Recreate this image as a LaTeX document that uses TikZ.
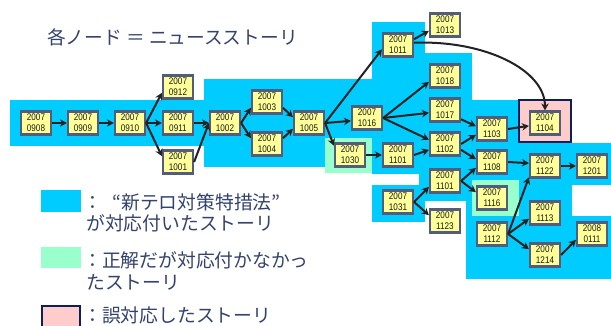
\documentclass[tikz,border=0pt]{standalone}
\usepackage{fontspec}
\newfontfamily\jp{Noto Sans CJK JP}
\newfontfamily\nf[FakeStretch=0.85]{Liberation Sans}
\usetikzlibrary{arrows.meta}
\definecolor{blueR}{HTML}{00CCFF}
\definecolor{greenR}{HTML}{99FFCC}
\definecolor{pinkR}{HTML}{FFCCCC}
\definecolor{navyR}{HTML}{0A1F5C}
\definecolor{nodefill}{HTML}{FFFF99}
\definecolor{nodeborder}{HTML}{535C7A}
\definecolor{txt}{HTML}{34426E}
\definecolor{arr}{HTML}{222222}
\begin{document}
\begin{tikzpicture}[x=1pt,y=-1pt,
  story/.style={draw=nodeborder, fill=nodefill, line width=2.2pt, minimum width=30pt, minimum height=23pt, inner sep=0pt, align=center, font=\nf\fontsize{9.6}{10.8}\selectfont, text=black!90},
  link/.style={draw=arr, line width=2pt, -{Stealth[length=7pt,width=7.5pt]}},
  lbl/.style={anchor=west, text=txt, font=\jp\fontsize{18.8}{21}\selectfont, inner sep=0pt},
  region/.style={fill=blueR},
  missed/.style={fill=greenR}]
\useasboundingbox (0,0) rectangle (611,325);
\fill[white] (0,0) rectangle (611,325);
% blue regions
\fill[region] (10,100) rectangle (205,146);
\fill[region] (204,79) rectangle (372,167);
\fill[region] (372,22) rectangle (425,60);
\fill[region] (372,53) rectangle (472,174);
\fill[region] (472,100) rectangle (518,185);
\fill[region] (518,143) rectangle (611,185);
\fill[region] (419,173) rectangle (472,201);
\fill[region] (466,200) rectangle (472,216);
\fill[region] (372,185) rectangle (425,222);
\fill[region] (519,184) rectangle (572,217);
\fill[region] (466,216) rectangle (611,279);
% green regions
\fill[missed] (325,138) rectangle (372,173);
\fill[missed] (472,180) rectangle (519,216);
% pink box
\draw[fill=pinkR, draw=navyR, line width=2pt] (519,100) rectangle (571,142);
% title
\node[lbl, font=\jp\fontsize{18.7}{20}\selectfont] (title) at (47,37) {各ノード ＝ ニュースストーリ};
% nodes
\node[story] (n0908) at (36,123) {2007\\0908};
\node[story] (n0909) at (83,123) {2007\\0909};
\node[story] (n0910) at (130,123) {2007\\0910};
\node[story] (n0912) at (178,87) {2007\\0912};
\node[story] (n0911) at (178,123) {2007\\0911};
\node[story] (n1001) at (178,162) {2007\\1001};
\node[story] (n1002) at (225,123) {2007\\1002};
\node[story] (n1003) at (267,102) {2007\\1003};
\node[story] (n1004) at (267,144) {2007\\1004};
\node[story] (n1005) at (309,123) {2007\\1005};
\node[story] (n1030) at (350,155) {2007\\1030};
\node[story] (n1016) at (367,118) {2007\\1016};
\node[story] (n1011) at (398,45) {2007\\1011};
\node[story] (n1013) at (445,25) {2007\\1013};
\node[story] (n1018) at (445,76) {2007\\1018};
\node[story] (n1017) at (445,110) {2007\\1017};
\node[story] (n1102) at (445,144) {2007\\1102};
\node[story] (n1101a) at (398,155) {2007\\1101};
\node[story] (n1103) at (492,129) {2007\\1103};
\node[story] (n1104) at (545,123) {2007\\1104};
\node[story] (n1108) at (492,162) {2007\\1108};
\node[story] (n1122) at (545,166) {2007\\1122};
\node[story] (n1201) at (592,166) {2007\\1201};
\node[story] (n1101b) at (445,181) {2007\\1101};
\node[story] (n1031) at (398,202) {2007\\1031};
\node[story] (n1116) at (492,198) {2007\\1116};
\node[story] (n1123) at (445,221) {2007\\1123};
\node[story] (n1113) at (545,213) {2007\\1113};
\node[story] (n1112) at (492,234) {2007\\1112};
\node[story] (n1214) at (545,255) {2007\\1214};
\node[story] (n0111) at (592,234) {2008\\0111};
% links
\draw[link] (n0908.east) -- (n0909.west);
\draw[link] (n0909.east) -- (n0910.west);
\draw[link] (n0910.east) -- (n0912.200);
\draw[link] (n0910.east) -- (n0911.west);
\draw[link] (n0910.east) -- (n1001.160);
\draw[link] (n0911.east) -- (n1002.west);
\draw[link] (n1001.east) -- (n1002.west);
\draw[link] (n1002.east) -- (n1003.200);
\draw[link] (n1002.east) -- (n1004.160);
\draw[link] (n1003.-20) -- (n1005.160);
\draw[link] (n1004.20) -- (n1005.200);
\draw[link] (n1005.east) -- (n1011.195);
\draw[link] (n1005.east) -- (n1016.190);
\draw[link] (n1005.east) -- (n1030.150);
\draw[link] (n1030.east) -- (n1101a.west);
\draw[link] (n1011.20) -- (n1013.200);
\draw[link] (n1011.8) .. controls (485,40) and (545,70) .. (n1104.north);
\draw[link] (n1016.east) -- (n1018.200);
\draw[link] (n1016.east) -- (n1017.190);
\draw[link] (n1016.east) -- (n1102.165);
\draw[link] (n1101a.east) -- (n1102.200);
\draw[link] (n1017.-30) -- (n1103.170);
\draw[link] (n1102.east) -- (n1103.200);
\draw[link] (n1102.-20) -- (n1108.170);
\draw[link] (n1103.east) -- (n1104.190);
\draw[link] (n1101b.east) -- (n1108.200);
\draw[link] (n1101b.east) -- (n1116.160);
\draw[link] (n1031.east) -- (n1101b.200);
\draw[link] (n1031.east) -- (n1123.160);
\draw[link] (n1108.east) -- (n1122.170);
\draw[link] (n1122.east) -- (n1201.west);
\draw[link] (n1112.east) -- (n1122.215);
\draw[link] (n1112.east) -- (n1113.200);
\draw[link] (n1112.east) -- (n1214.160);
\draw[link] (n1214.east) -- (n0111.200);
% legend
\fill[blueR] (41,190) rectangle (81,212);
\fill[greenR] (41,247) rectangle (81,268);
\draw[fill=pinkR, draw=navyR, line width=2pt] (42,306) rectangle (80,330);
\node[lbl] (l1) at (83,202) {：\kern0.55em“新テロ対策特措法”};
\node[lbl] (l2) at (86,223) {が対応付いたストーリ};
\node[lbl] (l3) at (83,260) {：正解だが対応付かなかっ};
\node[lbl] (l4) at (86,282) {たストーリ};
\node[lbl] (l5) at (83,315) {：誤対応したストーリ};
\end{tikzpicture}
\end{document}
